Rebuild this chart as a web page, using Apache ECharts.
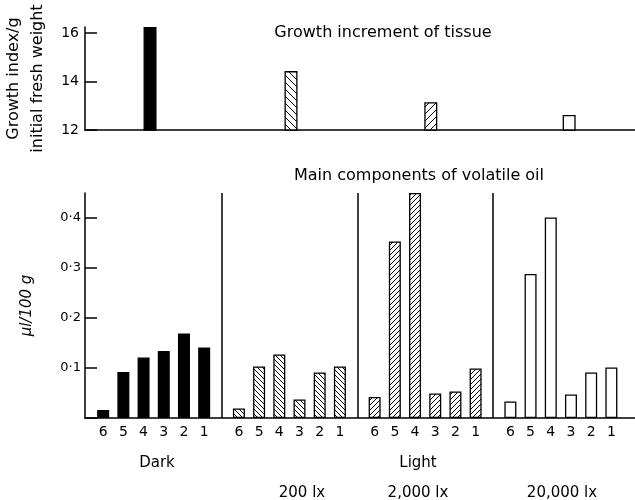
<!DOCTYPE html>
<html lang="en">
<head>
    <meta charset="UTF-8">
    <title>Echarts</title>
    <script src="https://cdn.jsdelivr.net/npm/echarts@6/dist/echarts.min.js"></script>
    <style>
        html, body { margin: 0; padding: 0; background: #fff; }
    </style>
</head>
<body>
    <div id="main" style="width: 635px;height:500px;"></div>
    <script type="text/javascript">
        // data
        var conditions = ['Dark', '200 lx', '2,000 lx', '20,000 lx'];
        var components = ['6', '5', '4', '3', '2', '1'];
        var growthIndex = [16.25, 14.43, 13.15, 12.62];
        var oilDark = [0.016, 0.092, 0.121, 0.134, 0.169, 0.141];
        var oil200 = [0.019, 0.103, 0.127, 0.037, 0.091, 0.103];
        var oil2000 = [0.042, 0.353, 0.45, 0.049, 0.053, 0.099];
        var oil20000 = [0.033, 0.288, 0.401, 0.047, 0.091, 0.101];
        var oilTicks = [0.1, 0.2, 0.3, 0.4];
        var growthTicks = [12, 14, 16];

        var FONT = '"DejaVu Sans", sans-serif';
        var PITCH = 6.72;               // group spacing, in bar slots
        var topPos = [2.32, 9.3, 16.22, 23.07];

        // hatch pattern tiles
        function hatch(dir, s) {
            var c = document.createElement('canvas');
            c.width = s; c.height = s;
            var ctx = c.getContext('2d');
            ctx.fillStyle = '#fff';
            ctx.fillRect(0, 0, s, s);
            ctx.strokeStyle = '#000';
            ctx.lineWidth = 1;
            ctx.beginPath();
            if (dir === '/') {
                ctx.moveTo(-1, s + 1); ctx.lineTo(s + 1, -1);
                ctx.moveTo(-1, 1); ctx.lineTo(1, -1);
                ctx.moveTo(s - 1, s + 1); ctx.lineTo(s + 1, s - 1);
            } else {
                ctx.moveTo(-1, -1); ctx.lineTo(s + 1, s + 1);
                ctx.moveTo(s - 1, -1); ctx.lineTo(s + 1, 1);
                ctx.moveTo(-1, s - 1); ctx.lineTo(1, s + 1);
            }
            ctx.stroke();
            return c;
        }

        var fillsBottom = ['#000', { image: hatch('\\', 5), repeat: 'repeat' }, { image: hatch('/', 5), repeat: 'repeat' }, '#fff'];
        var fillsTop = ['#000', { image: hatch('\\', 7), repeat: 'repeat' }, { image: hatch('/', 7), repeat: 'repeat' }, '#fff'];

        var oilSets = [oilDark, oil200, oil2000, oil20000];

        var myChart = echarts.init(document.getElementById('main'));

        var bottomSeries = oilSets.map(function (vals, g) {
            return {
                type: 'bar',
                name: conditions[g],
                xAxisIndex: 1,
                yAxisIndex: 1,
                barWidth: 12,
                barGap: '-100%',
                itemStyle: { color: fillsBottom[g], borderColor: '#000', borderWidth: 1.3 },
                label: {
                    show: true,
                    position: 'bottom',
                    distance: 7,
                    color: '#000',
                    fontFamily: FONT,
                    fontSize: 14,
                    formatter: function (p) { return p.data.comp; }
                },
                data: vals.map(function (v, k) {
                    return { value: [g * PITCH + k, v], comp: components[k] };
                }),
                markLine: g === 0 ? {
                    silent: true,
                    symbol: 'none',
                    label: { show: false },
                    lineStyle: { color: '#000', type: 'solid', width: 1.5 },
                    data: [1, 2, 3].map(function (i) { return { xAxis: i * PITCH - (PITCH - 5) / 2 }; })
                } : undefined
            };
        });

        var option = {
            animation: false,
            backgroundColor: '#fff',
            textStyle: { fontFamily: FONT, color: '#000' },
            grid: [
                { left: 85, right: 0, top: 27, bottom: 370, containLabel: false, outerBoundsMode: 'none' },
                { left: 85, right: 0, top: 193, bottom: 82, containLabel: false, outerBoundsMode: 'none' }
            ],
            xAxis: [0, 1].map(function (i) {
                return {
                    type: 'value',
                    gridIndex: i,
                    min: -0.9,
                    max: 26.33,
                    axisLine: { show: true, onZero: false, lineStyle: { color: '#000', width: 1.5 } },
                    axisTick: { show: false },
                    axisLabel: { show: false },
                    splitLine: { show: false }
                };
            }),
            yAxis: [
                {
                    type: 'value',
                    gridIndex: 0,
                    min: 12,
                    max: 16.25,
                    interval: 2,
                    name: 'Growth index/g\ninitial fresh weight',
                    nameLocation: 'middle',
                    nameGap: 31,
                    nameTextStyle: { fontFamily: FONT, fontSize: 16, color: '#000', lineHeight: 24 },
                    axisLine: { show: true, onZero: false, lineStyle: { color: '#000', width: 1.5 } },
                    axisTick: { show: true, inside: true, length: 12, lineStyle: { color: '#000', width: 1.5 } },
                    axisLabel: {
                        color: '#000', fontFamily: FONT, fontSize: 14, margin: 6, showMaxLabel: false,
                        formatter: function (v) { return growthTicks.indexOf(v) >= 0 ? String(v) : ''; }
                    },
                    splitLine: { show: false }
                },
                {
                    type: 'value',
                    gridIndex: 1,
                    min: 0,
                    max: 0.45,
                    interval: 0.1,
                    name: 'μl/100 g',
                    nameLocation: 'middle',
                    nameGap: 50,
                    nameTextStyle: { fontFamily: FONT, fontSize: 15, fontStyle: 'italic', color: '#000' },
                    axisLine: { show: true, onZero: false, lineStyle: { color: '#000', width: 1.5 } },
                    axisTick: { show: true, inside: true, length: 12, lineStyle: { color: '#000', width: 1.5 } },
                    axisLabel: {
                        color: '#000', fontFamily: FONT, fontSize: 13, margin: 4, showMaxLabel: false,
                        formatter: function (v) {
                            var r = Math.round(v * 10) / 10;
                            return oilTicks.indexOf(r) >= 0 ? r.toFixed(1).replace('.', '·') : '';
                        }
                    },
                    splitLine: { show: false }
                }
            ],
            graphic: [
                { type: 'text', x: 383, y: 33, style: { text: 'Growth increment of tissue', font: '16px ' + FONT, fill: '#000', align: 'center', verticalAlign: 'middle' } },
                { type: 'text', x: 419, y: 176, style: { text: 'Main components of volatile oil', font: '16px ' + FONT, fill: '#000', align: 'center', verticalAlign: 'middle' } },
                { type: 'text', x: 157, y: 463, style: { text: conditions[0], font: '15px ' + FONT, fill: '#000', align: 'center', verticalAlign: 'middle' } },
                { type: 'text', x: 418, y: 463, style: { text: 'Light', font: '15px ' + FONT, fill: '#000', align: 'center', verticalAlign: 'middle' } },
                { type: 'text', x: 302, y: 493, style: { text: conditions[1], font: '15px ' + FONT, fill: '#000', align: 'center', verticalAlign: 'middle' } },
                { type: 'text', x: 418, y: 493, style: { text: conditions[2], font: '15px ' + FONT, fill: '#000', align: 'center', verticalAlign: 'middle' } },
                { type: 'text', x: 562, y: 493, style: { text: conditions[3], font: '15px ' + FONT, fill: '#000', align: 'center', verticalAlign: 'middle' } }
            ],
            series: [{
                type: 'bar',
                name: 'Growth index',
                xAxisIndex: 0,
                yAxisIndex: 0,
                barWidth: 13,
                clip: true,
                data: growthIndex.map(function (v, g) {
                    return {
                        value: [topPos[g], v],
                        itemStyle: { color: fillsTop[g], borderColor: '#000', borderWidth: 1.3 }
                    };
                })
            }].concat(bottomSeries)
        };

        myChart.setOption(option);
    </script>
</body>
</html>
